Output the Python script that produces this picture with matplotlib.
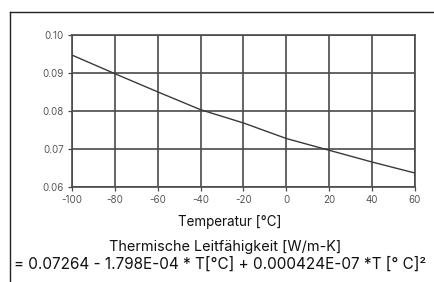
import matplotlib.pyplot as plt
from matplotlib.lines import Line2D

# Temperatur [°C] und Thermische Leitfähigkeit [W/m-K]
temps = [-100, -80, -60, -40, -20, 0, 20, 40, 60]
k_vals = [0.0947, 0.0898, 0.0850, 0.0803, 0.0768, 0.0727, 0.0696, 0.0665, 0.0636]
x_ticks = [-100, -80, -60, -40, -20, 0, 20, 40, 60]
y_ticks = [0.06, 0.07, 0.08, 0.09, 0.10]
y_labels = ['0.06', '0.07', '0.08', '0.09', '0.10']

plt.rcParams['font.family'] = ['Inter', 'DejaVu Sans']
plt.rcParams['axes.unicode_minus'] = False

fig = plt.figure(figsize=(4.35, 2.82), dpi=100)
ax = fig.add_axes([72/435, 1 - 186.7/282, (415 - 72)/435, (186.7 - 35)/282])

ax.plot(temps, k_vals, color='#3a3a3a', lw=1.0, zorder=3)
ax.set_xlim(-100, 60)
ax.set_ylim(0.06, 0.10)
ax.set_xticks(x_ticks)
ax.set_yticks(y_ticks)
ax.set_yticklabels(y_labels)
ax.grid(True, color='#4a4a4a', lw=1.2)
for s in ax.spines.values():
    s.set_color('#4a4a4a')
    s.set_linewidth(1.2)
ax.tick_params(labelsize=7, colors='#4a4a4a', labelcolor='#555555', length=3, width=0.9, pad=3)

# Beschriftung unter dem Diagramm
fig.text(0.529, 1 - 222/282, 'Temperatur [°C]', ha='center', va='center', fontsize=9.7, color='#111111')
fig.text(0.517, 1 - 247/282, 'Thermische Leitfähigkeit [W/m-K]', ha='center', va='center', fontsize=10.4, color='#111111')
fig.text(0.506, 1 - 264/282, '= 0.07264 - 1.798E-04 * T[°C] + 0.000424E-07 *T [° C]²',
         ha='center', va='center', fontsize=11, color='#111111')

# Rahmen oben und links
fig.add_artist(Line2D([10/435, 10/435], [0, 1 - 12/282], color='#222222', lw=1.0))
fig.add_artist(Line2D([10/435, 1], [1 - 12/282, 1 - 12/282], color='#222222', lw=1.0))

fig.savefig('out.png', dpi=100)
